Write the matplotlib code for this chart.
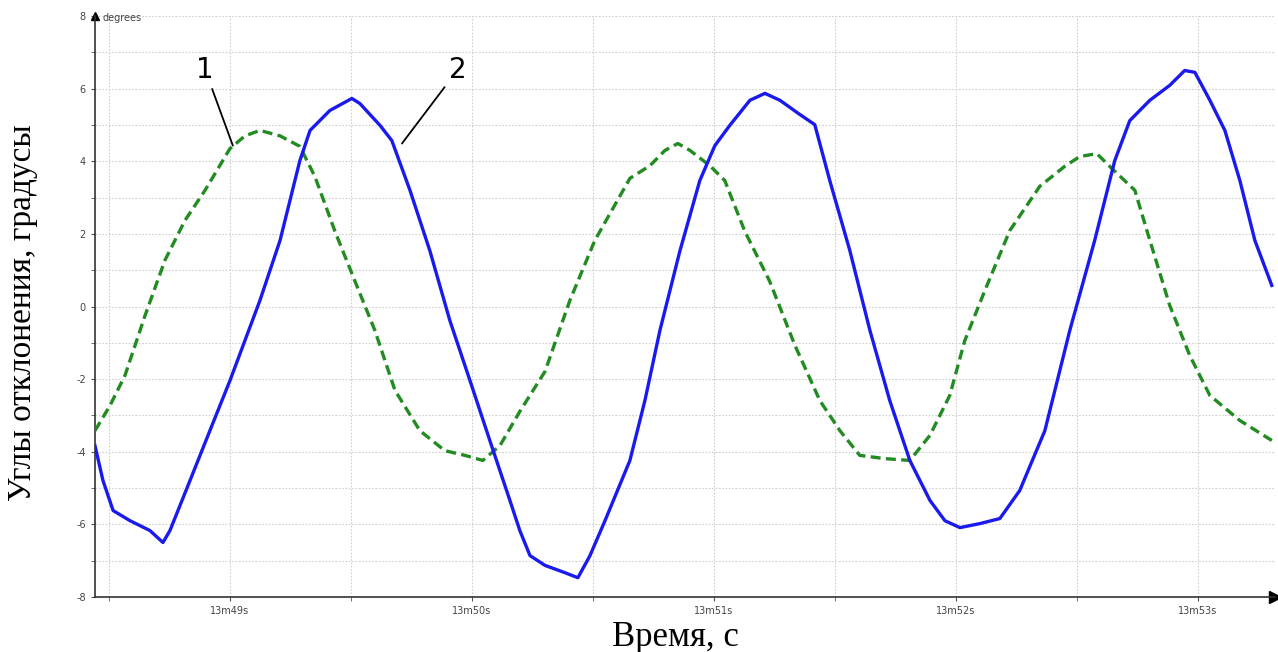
import matplotlib.pyplot as plt
from matplotlib.ticker import MultipleLocator, FuncFormatter

# Время, секунды после 13m00s; углы в градусах
t_2 = [48.442, 48.475, 48.517, 48.587, 48.669, 48.723, 48.752, 48.835, 48.917, 49.000,
       49.124, 49.207, 49.289, 49.331, 49.413, 49.504, 49.537, 49.620, 49.669, 49.744,
       49.826, 49.909, 49.992, 50.074, 50.157, 50.198, 50.240, 50.302, 50.384, 50.438,
       50.488, 50.550, 50.653, 50.715, 50.777, 50.860, 50.942, 51.004, 51.066, 51.149,
       51.211, 51.273, 51.355, 51.417, 51.479, 51.562, 51.645, 51.727, 51.810, 51.893,
       51.955, 52.017, 52.099, 52.182, 52.264, 52.368, 52.471, 52.574, 52.657, 52.719,
       52.802, 52.884, 52.946, 52.988, 53.050, 53.112, 53.174, 53.236, 53.306]
angle_2 = [-3.83, -4.79, -5.62, -5.90, -6.17, -6.50, -6.17, -4.79, -3.42, -2.04,
           0.17, 1.82, 4.02, 4.85, 5.40, 5.73, 5.59, 4.99, 4.57, 3.20,
           1.54, -0.39, -2.04, -3.69, -5.34, -6.17, -6.86, -7.13, -7.33, -7.47,
           -6.86, -5.90, -4.24, -2.59, -0.66, 1.54, 3.47, 4.43, 4.99, 5.68,
           5.87, 5.68, 5.29, 5.01, 3.47, 1.54, -0.66, -2.59, -4.24, -5.34,
           -5.90, -6.09, -5.98, -5.84, -5.07, -3.42, -0.66, 1.82, 4.02, 5.12,
           5.68, 6.09, 6.50, 6.45, 5.68, 4.85, 3.47, 1.82, 0.58]

t_1 = [48.442, 48.504, 48.566, 48.649, 48.731, 48.814, 48.897, 49.000, 49.062, 49.124,
       49.207, 49.289, 49.351, 49.434, 49.517, 49.599, 49.682, 49.785, 49.888, 49.971,
       50.045, 50.116, 50.198, 50.302, 50.405, 50.508, 50.653, 50.736, 50.798, 50.851,
       50.901, 50.983, 51.045, 51.128, 51.231, 51.335, 51.438, 51.521, 51.603, 51.707,
       51.810, 51.893, 51.975, 52.037, 52.120, 52.223, 52.347, 52.450, 52.512, 52.583,
       52.636, 52.740, 52.802, 52.884, 52.967, 53.050, 53.174, 53.306]
angle_1 = [-3.42, -2.73, -1.90, -0.25, 1.27, 2.37, 3.20, 4.35, 4.70, 4.85,
           4.70, 4.41, 3.58, 2.07, 0.69, -0.66, -2.31, -3.42, -3.97, -4.10,
           -4.24, -3.83, -2.89, -1.79, 0.17, 1.82, 3.53, 3.88, 4.30, 4.49,
           4.30, 3.88, 3.47, 2.07, 0.69, -1.07, -2.59, -3.42, -4.10, -4.19,
           -4.24, -3.55, -2.45, -0.94, 0.44, 2.09, 3.31, 3.86, 4.13, 4.21,
           3.86, 3.20, 1.82, 0.03, -1.35, -2.45, -3.14, -3.69]


def main():
    fig = plt.figure(figsize=(12.78, 6.52), dpi=100)
    ax = fig.add_axes([0.0743, 0.0844, 0.9235, 0.891])

    ax.plot(t_1, angle_1, color='#228b22', lw=2.4, ls=(0, (3, 1.6)), zorder=3)
    ax.plot(t_2, angle_2, color='#1a1aee', lw=2.4, zorder=4)

    ax.set_xlim(48.442, 53.32)
    ax.set_ylim(-8, 8)

    # сетка и деления
    ax.xaxis.set_major_locator(MultipleLocator(1))
    ax.xaxis.set_minor_locator(MultipleLocator(0.5))
    ax.yaxis.set_major_locator(MultipleLocator(2))
    ax.yaxis.set_minor_locator(MultipleLocator(1))
    ax.xaxis.set_major_formatter(FuncFormatter(lambda v, p: '13m%ds' % round(v)))
    ax.yaxis.set_major_formatter(FuncFormatter(lambda v, p: '%d' % v))
    ax.grid(which='both', color='#d0d0d0', ls=(0, (1.5, 1.5)), lw=0.8)
    ax.tick_params(which='both', colors='#555555', labelsize=7, length=3, direction='out')
    ax.tick_params(axis='both', labelcolor='#444444')

    for s in ['top', 'right']:
        ax.spines[s].set_visible(False)
    for s in ['left', 'bottom']:
        ax.spines[s].set_color('#333333')
        ax.spines[s].set_linewidth(1.2)

    # стрелки осей
    ax.plot(1, 0, '>', color='black', ms=8, transform=ax.transAxes, clip_on=False)
    ax.plot(0, 1, '^', color='black', ms=6, transform=ax.transAxes, clip_on=False)
    ax.text(0.006, 0.997, 'degrees', transform=ax.transAxes, fontsize=7,
            color='#444444', va='center', ha='left')

    ax.set_xlabel('Время, с', fontsize=25, family='Liberation Serif')
    ax.set_ylabel('Углы отклонения, градусы', fontsize=24, family='Liberation Serif')
    ax.xaxis.set_label_coords(0.4915, -0.042)
    ax.yaxis.set_label_coords(-0.048, 0.489)

    # выноски
    ax.annotate('1', xy=(49.012, 4.43), xytext=(48.897, 6.14), fontsize=20,
                ha='center', va='bottom', family='DejaVu Sans',
                arrowprops=dict(arrowstyle='-', color='black', lw=1.3, shrinkA=2, shrinkB=0))
    ax.annotate('2', xy=(49.711, 4.49), xytext=(49.942, 6.14), fontsize=20,
                ha='center', va='bottom', family='DejaVu Sans',
                arrowprops=dict(arrowstyle='-', color='black', lw=1.3, shrinkA=2, shrinkB=0))

    fig.savefig('out.png', dpi=100)


if __name__ == "__main__":
    main()
